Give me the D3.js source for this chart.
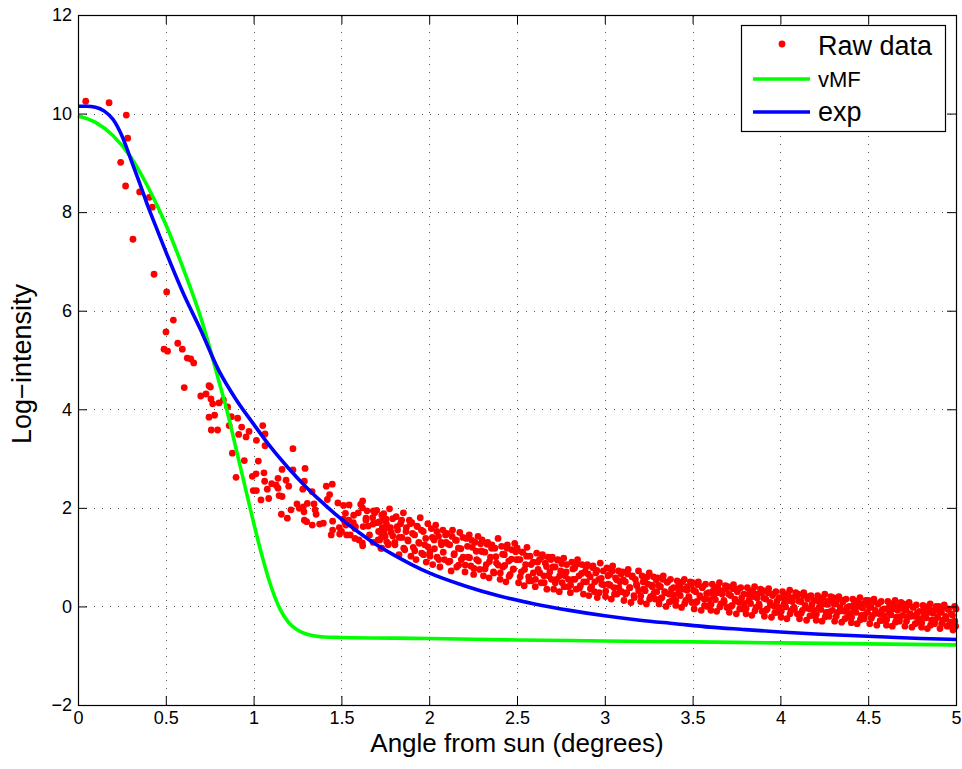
<!DOCTYPE html>
<html>
<head>
<meta charset="utf-8">
<script src="https://cdn.jsdelivr.net/npm/d3@7"></script>
<style>
  html, body { margin: 0; padding: 0; background: #fff; }
  svg { display: block; }
  text { font-family: "Liberation Sans", Arial, Helvetica, sans-serif; fill: #000; }
</style>
</head>
<body>
<svg id="chart" width="962" height="769"></svg>
<script>
// ---------- data ----------
const xTicks = [0, 0.5, 1, 1.5, 2, 2.5, 3, 3.5, 4, 4.5, 5];
const yTicks = [-2, 0, 2, 4, 6, 8, 10, 12];
const legendLabels = ["Raw data", "vMF", "exp"];

// sparse raw points near the sun
const earlyX = [0.044,0.177,0.275,0.283,0.243,0.271,0.351,0.406,0.423,0.313,0.433,0.505,0.543,0.501,0.490,0.510,0.568,0.594,0.622,0.642,0.659,0.605,0.746,0.754,0.699,0.729,0.757,0.767,0.803,0.828,0.746,0.778,0.759,0.795,0.873,0.909,0.861,0.932,0.974,0.915,0.957,1.016,1.052,1.065,1.065,1.224,0.852,0.879,0.947,1.027,0.900,0.993,1.014,1.059,0.998,1.016,1.042,1.086,1.063,1.078,1.103,1.139,1.129,1.139,1.162,1.185,1.200,1.145,1.162,1.224,1.293,1.289,1.280,1.213,1.158,1.192,1.247,1.260,1.283,1.287,1.306,1.333,1.344,1.350,1.356,1.289,1.302,1.334,1.376,1.397,1.414,1.448,1.433,1.420,1.450,1.442,1.490,1.512,1.544,1.621,1.610,1.596,1.646,1.682,1.640,1.678,1.523,1.511,1.542,1.568,1.526,1.577,1.624,1.653,1.680,1.488,1.501,1.577,1.619,1.621,1.530,1.739,1.712,1.730,1.765,1.758,1.730,1.450,1.550,1.600,1.660,1.690,1.620,1.570,1.480,1.520,1.580,1.640,1.680];
const earlyY = [10.25,10.22,9.97,9.50,9.01,8.53,8.41,8.30,8.10,7.45,6.74,6.38,5.81,5.57,5.22,5.18,5.34,5.22,5.04,5.02,4.94,4.44,4.48,4.45,4.27,4.31,4.21,4.11,4.13,4.19,3.84,3.88,3.58,3.58,3.85,3.82,3.67,3.64,3.55,3.49,3.44,3.37,3.67,3.50,3.26,3.20,4.05,3.11,2.96,2.95,2.62,2.64,2.69,2.71,2.35,2.35,2.16,2.19,2.54,2.38,2.49,2.60,2.46,2.40,2.78,2.56,2.44,2.25,2.23,2.77,2.80,2.54,2.38,1.96,1.87,1.79,2.08,1.99,2.02,1.92,2.09,2.33,2.08,1.96,1.87,1.75,1.72,1.65,1.67,1.69,2.44,2.48,2.27,2.17,1.73,1.45,1.47,2.05,2.06,2.14,2.07,1.90,1.94,1.94,1.79,1.80,1.89,1.77,1.75,1.70,1.65,1.58,1.62,1.63,1.67,1.60,1.52,1.38,1.29,1.23,1.45,1.75,1.52,1.41,1.60,1.31,1.18,1.55,1.45,1.35,1.45,1.90,2.00,1.85,2.10,1.70,1.62,1.75,1.30];

// dense band of raw points (outer spread)
const bandX = [
1.701,1.709,1.717,1.725,1.733,1.741,1.749,1.757,1.766,1.774,1.783,1.792,
1.804,1.812,1.820,1.828,1.837,1.845,1.853,1.861,1.870,1.878,1.887,1.896,
1.901,1.909,1.917,1.925,1.933,1.941,1.949,1.957,1.966,1.974,1.983,1.992,
2.004,2.012,2.020,2.028,2.037,2.045,2.053,2.061,2.070,2.078,2.087,2.096,
2.101,2.109,2.117,2.125,2.133,2.141,2.149,2.157,2.166,2.174,2.183,2.192,
2.204,2.212,2.220,2.228,2.237,2.245,2.253,2.261,2.270,2.278,2.287,2.296,
2.301,2.309,2.317,2.325,2.333,2.341,2.349,2.357,2.366,2.374,2.383,2.392,
2.404,2.412,2.420,2.428,2.437,2.445,2.453,2.461,2.470,2.478,2.487,2.496,
2.501,2.509,2.517,2.525,2.533,2.541,2.549,2.557,2.566,2.574,2.583,2.592,
2.604,2.612,2.620,2.628,2.637,2.645,2.653,2.661,2.670,2.678,2.687,2.696,
2.701,2.709,2.717,2.725,2.733,2.741,2.749,2.757,2.766,2.774,2.783,2.792,
2.804,2.812,2.820,2.828,2.837,2.845,2.853,2.861,2.870,2.878,2.887,2.896,
2.901,2.909,2.917,2.925,2.933,2.941,2.949,2.957,2.966,2.974,2.983,2.992,
3.004,3.012,3.020,3.028,3.037,3.045,3.053,3.061,3.070,3.078,3.087,3.096,
3.101,3.109,3.117,3.125,3.133,3.141,3.149,3.157,3.166,3.174,3.183,3.192,
3.204,3.212,3.220,3.228,3.237,3.245,3.253,3.261,3.270,3.278,3.287,3.296,
3.301,3.309,3.317,3.325,3.333,3.341,3.349,3.357,3.366,3.374,3.383,3.392,
3.404,3.412,3.420,3.428,3.437,3.445,3.453,3.461,3.470,3.478,3.487,3.496,
3.501,3.509,3.517,3.525,3.533,3.541,3.549,3.557,3.566,3.574,3.583,3.592,
3.604,3.612,3.620,3.628,3.637,3.645,3.653,3.661,3.670,3.678,3.687,3.696,
3.701,3.709,3.717,3.725,3.733,3.741,3.749,3.757,3.766,3.774,3.783,3.792,
3.804,3.812,3.820,3.828,3.837,3.845,3.853,3.861,3.870,3.878,3.887,3.896,
3.901,3.909,3.917,3.925,3.933,3.941,3.949,3.957,3.966,3.974,3.983,3.992,
4.004,4.012,4.020,4.028,4.037,4.045,4.053,4.061,4.070,4.078,4.087,4.096,
4.101,4.109,4.117,4.125,4.133,4.141,4.149,4.157,4.166,4.174,4.183,4.192,
4.204,4.212,4.220,4.228,4.237,4.245,4.253,4.261,4.270,4.278,4.287,4.296,
4.301,4.309,4.317,4.325,4.333,4.341,4.349,4.357,4.366,4.374,4.383,4.392,
4.404,4.412,4.420,4.428,4.437,4.445,4.453,4.461,4.470,4.478,4.487,4.496,
4.501,4.509,4.517,4.525,4.533,4.541,4.549,4.557,4.566,4.574,4.583,4.592,
4.604,4.612,4.620,4.628,4.637,4.645,4.653,4.661,4.670,4.678,4.687,4.696,
4.701,4.709,4.717,4.725,4.733,4.741,4.749,4.757,4.766,4.774,4.783,4.792,
4.804,4.812,4.820,4.828,4.837,4.845,4.853,4.861,4.870,4.878,4.887,4.896,
4.901,4.909,4.917,4.925,4.933,4.941,4.949,4.957,4.966,4.974,4.983,4.992,
4.998,5.000];
const bandY = [
1.95,1.35,1.72,1.18,1.60,1.88,1.42,1.67,1.25,1.98,1.50,1.78,
1.30,1.82,1.55,1.05,1.68,1.40,1.90,1.15,1.60,1.35,1.75,1.02,
1.70,1.20,1.45,0.95,1.62,1.30,1.80,1.08,1.52,1.25,0.90,1.68,
1.10,1.58,0.85,1.35,1.65,1.00,1.42,0.80,1.25,1.55,0.95,1.30,
1.48,0.90,1.25,0.72,1.55,1.05,1.35,0.80,1.18,1.50,0.95,1.40,
0.70,1.38,1.00,1.45,0.82,1.20,0.65,1.30,0.95,1.42,0.75,1.12,
1.35,0.62,1.10,0.85,1.30,0.58,1.00,1.25,0.70,1.18,0.88,1.38,
0.55,1.22,0.80,1.05,0.50,1.25,0.92,0.65,1.15,0.75,1.28,0.95,
1.18,0.48,0.95,0.70,1.10,0.42,0.85,1.20,0.60,1.02,0.52,0.90,
0.40,1.08,0.75,0.95,0.48,1.05,0.62,0.88,0.35,1.00,0.70,0.55,
1.00,0.35,0.80,0.55,0.95,0.30,0.72,0.48,0.98,0.62,0.85,0.40,
0.28,0.90,0.55,0.78,0.35,0.95,0.62,0.42,0.85,0.25,0.70,0.50,
0.85,0.22,0.60,0.40,0.82,0.30,0.68,0.18,0.55,0.88,0.45,0.72,
0.20,0.78,0.45,0.65,0.15,0.82,0.38,0.58,0.25,0.72,0.50,0.30,
0.70,0.12,0.50,0.28,0.75,0.38,0.08,0.62,0.22,0.55,0.42,0.72,
0.10,0.62,0.35,0.55,0.05,0.45,0.68,0.20,0.40,0.60,0.15,0.30,
0.58,0.05,0.40,0.18,0.62,0.30,0.00,0.50,0.25,0.55,0.12,0.38,
0.02,0.52,0.28,0.45,-0.02,0.35,0.55,0.12,0.40,0.20,0.50,0.08,
0.48,-0.05,0.30,0.10,0.50,0.22,-0.08,0.40,0.15,0.45,0.00,0.28,
-0.08,0.45,0.20,0.38,-0.10,0.28,0.48,0.05,0.32,0.12,0.42,-0.02,
0.40,-0.12,0.22,0.02,0.44,0.15,-0.15,0.35,0.08,0.38,-0.05,0.25,
-0.15,0.38,0.12,0.30,-0.18,0.20,0.40,-0.02,0.25,0.05,0.35,-0.10,
0.32,-0.20,0.15,-0.05,0.36,0.08,-0.22,0.25,0.00,0.30,-0.12,0.18,
-0.22,0.30,0.05,0.22,-0.25,0.12,0.33,-0.08,0.18,-0.02,0.28,-0.15,
0.25,-0.25,0.10,-0.08,0.28,0.02,-0.28,0.20,-0.05,0.22,-0.18,0.12,
-0.28,0.22,-0.02,0.15,-0.30,0.05,0.25,-0.12,0.10,-0.20,0.20,-0.08,
0.18,-0.30,0.05,-0.12,0.20,-0.02,-0.32,0.12,-0.10,0.15,-0.22,0.00,
-0.33,0.15,-0.08,0.08,-0.35,0.00,0.18,-0.18,0.05,-0.25,0.12,-0.12,
0.12,-0.35,-0.02,-0.18,0.15,-0.08,-0.38,0.05,-0.15,0.10,-0.28,-0.05,
-0.38,0.10,-0.12,0.02,-0.40,-0.05,0.12,-0.22,0.00,-0.30,0.08,-0.18,
0.05,-0.40,-0.08,-0.22,0.08,-0.15,-0.42,-0.02,-0.20,0.03,-0.32,-0.10,
-0.42,0.02,-0.18,-0.05,-0.45,-0.12,0.05,-0.28,-0.08,-0.35,0.00,-0.22,
0.00,-0.45,-0.12,-0.28,0.03,-0.20,-0.40,-0.05,-0.32,-0.15,-0.48,0.00,
-0.40,-0.05];

// dense band of raw points (inner core)
const coreX = [
1.705,1.718,1.730,1.743,1.755,1.768,1.780,1.793,
1.805,1.818,1.830,1.843,1.855,1.868,1.880,1.893,
1.905,1.918,1.930,1.943,1.955,1.968,1.980,1.993,
2.005,2.018,2.030,2.043,2.055,2.068,2.080,2.093,
2.105,2.118,2.130,2.143,2.155,2.168,2.180,2.193,
2.205,2.218,2.230,2.243,2.255,2.268,2.280,2.293,
2.305,2.318,2.330,2.343,2.355,2.368,2.380,2.393,
2.405,2.418,2.430,2.443,2.455,2.468,2.480,2.493,
2.505,2.518,2.530,2.543,2.555,2.568,2.580,2.593,
2.605,2.618,2.630,2.643,2.655,2.668,2.680,2.693,
2.705,2.718,2.730,2.743,2.755,2.768,2.780,2.793,
2.805,2.818,2.830,2.843,2.855,2.868,2.880,2.893,
2.905,2.918,2.930,2.943,2.955,2.968,2.980,2.993,
3.005,3.018,3.030,3.043,3.055,3.068,3.080,3.093,
3.105,3.118,3.130,3.143,3.155,3.168,3.180,3.193,
3.205,3.218,3.230,3.243,3.255,3.268,3.280,3.293,
3.305,3.318,3.330,3.343,3.355,3.368,3.380,3.393,
3.405,3.418,3.430,3.443,3.455,3.468,3.480,3.493,
3.505,3.518,3.530,3.543,3.555,3.568,3.580,3.593,
3.605,3.618,3.630,3.643,3.655,3.668,3.680,3.693,
3.705,3.718,3.730,3.743,3.755,3.768,3.780,3.793,
3.805,3.818,3.830,3.843,3.855,3.868,3.880,3.893,
3.905,3.918,3.930,3.943,3.955,3.968,3.980,3.993,
4.005,4.018,4.030,4.043,4.055,4.068,4.080,4.093,
4.105,4.118,4.130,4.143,4.155,4.168,4.180,4.193,
4.205,4.218,4.230,4.243,4.255,4.268,4.280,4.293,
4.305,4.318,4.330,4.343,4.355,4.368,4.380,4.393,
4.405,4.418,4.430,4.443,4.455,4.468,4.480,4.493,
4.505,4.518,4.530,4.543,4.555,4.568,4.580,4.593,
4.605,4.618,4.630,4.643,4.655,4.668,4.680,4.693,
4.705,4.718,4.730,4.743,4.755,4.768,4.780,4.793,
4.805,4.818,4.830,4.843,4.855,4.868,4.880,4.893,
4.905,4.918,4.930,4.943,4.955,4.968,4.980,4.993];
const coreY = [
1.70,1.35,1.85,1.50,1.77,1.27,1.60,1.43,
1.25,1.62,1.40,1.75,1.18,1.52,1.33,1.68,
1.48,1.13,1.63,1.28,1.55,1.05,1.38,1.21,
1.02,1.40,1.17,1.52,0.95,1.30,1.10,1.45,
1.27,0.92,1.42,1.07,1.34,0.84,1.17,1.00,
0.84,1.22,0.99,1.34,0.77,1.12,0.92,1.27,
1.11,0.76,1.26,0.91,1.18,0.68,1.01,0.84,
0.68,1.06,0.83,1.18,0.61,0.96,0.76,1.11,
0.95,0.60,1.10,0.75,1.02,0.52,0.85,0.68,
0.55,0.90,0.68,1.01,0.48,0.81,0.62,0.95,
0.80,0.48,0.94,0.62,0.87,0.40,0.70,0.55,
0.43,0.76,0.55,0.86,0.37,0.67,0.50,0.80,
0.66,0.36,0.79,0.50,0.73,0.28,0.57,0.44,
0.31,0.62,0.43,0.72,0.25,0.54,0.38,0.66,
0.54,0.25,0.66,0.38,0.60,0.18,0.45,0.32,
0.21,0.50,0.32,0.60,0.15,0.43,0.27,0.54,
0.43,0.16,0.55,0.28,0.49,0.09,0.35,0.23,
0.12,0.40,0.22,0.50,0.06,0.33,0.17,0.44,
0.33,0.08,0.44,0.19,0.38,0.02,0.26,0.14,
0.04,0.32,0.14,0.40,-0.01,0.25,0.09,0.36,
0.25,0.00,0.36,0.11,0.30,-0.05,0.18,0.06,
-0.04,0.24,0.06,0.32,-0.09,0.17,0.01,0.28,
0.17,-0.08,0.28,0.03,0.22,-0.13,0.10,-0.02,
-0.10,0.17,-0.01,0.25,-0.15,0.10,-0.05,0.21,
0.11,-0.14,0.22,-0.03,0.15,-0.19,0.04,-0.08,
-0.16,0.10,-0.06,0.18,-0.21,0.04,-0.11,0.14,
0.05,-0.20,0.15,-0.09,0.09,-0.25,-0.02,-0.14,
-0.22,0.03,-0.12,0.11,-0.27,-0.03,-0.17,0.07,
0.00,-0.24,0.10,-0.14,0.05,-0.29,-0.07,-0.19,
-0.27,-0.02,-0.17,0.06,-0.32,-0.08,-0.22,0.02,
-0.06,-0.30,0.03,-0.20,-0.01,-0.35,-0.13,-0.25,
-0.33,-0.08,-0.23,0.00,-0.38,-0.14,-0.28,-0.04,
-0.11,-0.35,-0.02,-0.25,-0.06,-0.40,-0.18,-0.30];

// vMF fit (green)
const vmfX = [0,0.1,0.2,0.3,0.4,0.5,0.6,0.7,0.75,0.8,0.85,0.9,0.95,1.0,1.05,1.1,1.15,1.2,1.25,1.3,1.35,1.4,1.5,2,2.5,3,3.5,4,4.5,5];
const vmfY = [9.95,9.82,9.55,9.12,8.5,7.75,6.85,5.85,5.25,4.6,3.95,3.2,2.45,1.7,1.0,0.4,-0.05,-0.33,-0.48,-0.56,-0.6,-0.62,-0.63,-0.65,-0.68,-0.70,-0.72,-0.74,-0.76,-0.78];

// exponential fit (blue)
const expX = [0,0.05,0.1,0.15,0.2,0.25,0.3,0.35,0.4,0.45,0.5,0.6,0.7,0.8,0.9,1.0,1.1,1.2,1.3,1.4,1.5,1.6,1.7,1.8,1.9,2.0,2.2,2.4,2.6,2.8,3.0,3.2,3.4,3.6,3.8,4.0,4.2,4.4,4.6,4.8,5.0];
const expY = [10.15,10.15,10.13,10.05,9.88,9.55,9.08,8.6,8.1,7.65,7.2,6.35,5.6,4.8,4.2,3.7,3.22,2.8,2.42,2.08,1.77,1.5,1.25,1.04,0.85,0.68,0.42,0.21,0.05,-0.08,-0.19,-0.28,-0.35,-0.42,-0.47,-0.52,-0.56,-0.59,-0.62,-0.65,-0.67];

// ---------- drawing ----------
const svg = d3.select("#chart");
const L = 78, R = 956, T = 15, B = 705;
const x = d3.scaleLinear().domain([0, 5]).range([L, R]);
const y = d3.scaleLinear().domain([-2, 12]).range([B, T]);

// grid
const grid = svg.append("g").attr("stroke", "#555").attr("stroke-width", 1)
  .attr("stroke-dasharray", "1,7").attr("shape-rendering", "crispEdges");
grid.selectAll("line.gx").data(xTicks.filter(d => d > 0 && d < 5)).join("line")
  .attr("x1", d => Math.round(x(d)) + 0.5).attr("x2", d => Math.round(x(d)) + 0.5)
  .attr("y1", B).attr("y2", T);
grid.selectAll("line.gy").data(yTicks.filter(d => d > -2 && d < 12)).join("line")
  .attr("y1", d => Math.round(y(d)) + 0.5).attr("y2", d => Math.round(y(d)) + 0.5)
  .attr("x1", L).attr("x2", R);

// raw points
const pts = earlyX.map((v, i) => [v, earlyY[i]])
  .concat(bandX.map((v, i) => [v, bandY[i]]))
  .concat(coreX.map((v, i) => [v, coreY[i]]));
const plot = svg.append("g");
plot.selectAll("circle").data(pts).join("circle")
  .attr("cx", d => x(d[0])).attr("cy", d => y(d[1])).attr("r", 3.4).attr("fill", "#ff0000");

// fitted curves
const line = d3.line().x(d => x(d[0])).y(d => y(d[1])).curve(d3.curveMonotoneX);
plot.append("path").datum(vmfX.map((v, i) => [v, vmfY[i]]))
  .attr("d", line).attr("fill", "none").attr("stroke", "#00ff00").attr("stroke-width", 3.6);
plot.append("path").datum(expX.map((v, i) => [v, expY[i]]))
  .attr("d", line).attr("fill", "none").attr("stroke", "#0000ff").attr("stroke-width", 3.6);

// axes (MATLAB style, inward ticks on all four sides)
const fmt = d => (d < 0 ? "\u2212" + Math.abs(d) : String(d));
const axB = svg.append("g").attr("transform", `translate(0,${B})`)
  .call(d3.axisBottom(x).tickValues(xTicks).tickFormat(fmt).tickSizeInner(-9).tickSizeOuter(0).tickPadding(6));
const axT = svg.append("g").attr("transform", `translate(0,${T})`)
  .call(d3.axisTop(x).tickValues(xTicks).tickFormat("").tickSizeInner(-9).tickSizeOuter(0));
const axL = svg.append("g").attr("transform", `translate(${L},0)`)
  .call(d3.axisLeft(y).tickValues(yTicks).tickFormat(fmt).tickSizeInner(-9).tickSizeOuter(0).tickPadding(6));
const axRt = svg.append("g").attr("transform", `translate(${R},0)`)
  .call(d3.axisRight(y).tickValues(yTicks).tickFormat("").tickSizeInner(-9).tickSizeOuter(0));
[axB, axT, axL, axRt].forEach(a => {
  a.select(".domain").remove();
  a.selectAll("line").attr("stroke", "#000");
  a.selectAll("text").attr("font-size", 18).attr("fill", "#000")
    .attr("font-family", '"Liberation Sans", Arial, sans-serif');
});
svg.append("rect").attr("x", L + 0.5).attr("y", T + 0.5).attr("width", R - L).attr("height", B - T)
  .attr("fill", "none").attr("stroke", "#000").attr("stroke-width", 1.2);

// axis labels
svg.append("text").attr("x", (L + R) / 2).attr("y", 752).attr("text-anchor", "middle")
  .attr("font-size", 26).text("Angle from sun (degrees)");
svg.append("text").attr("transform", `translate(31,${(T + B) / 2 + 4}) rotate(-90)`)
  .attr("text-anchor", "middle").attr("font-size", 27).text("Log\u2212intensity");

// legend
const lg = svg.append("g");
lg.append("rect").attr("x", 741.5).attr("y", 25.5).attr("width", 204).attr("height", 106)
  .attr("fill", "#fff").attr("stroke", "#000").attr("stroke-width", 1.2);
lg.append("circle").attr("cx", 782).attr("cy", 44).attr("r", 3.4).attr("fill", "#ff0000");
lg.append("text").attr("x", 818).attr("y", 55).attr("font-size", 27).text(legendLabels[0]);
lg.append("line").attr("x1", 753).attr("x2", 810).attr("y1", 79).attr("y2", 79)
  .attr("stroke", "#00ff00").attr("stroke-width", 3.6);
lg.append("text").attr("x", 818).attr("y", 87).attr("font-size", 22).text(legendLabels[1]);
lg.append("line").attr("x1", 753).attr("x2", 810).attr("y1", 112).attr("y2", 112)
  .attr("stroke", "#0000ff").attr("stroke-width", 3.6);
lg.append("text").attr("x", 818).attr("y", 121).attr("font-size", 27).text(legendLabels[2]);
</script>
</body>
</html>
